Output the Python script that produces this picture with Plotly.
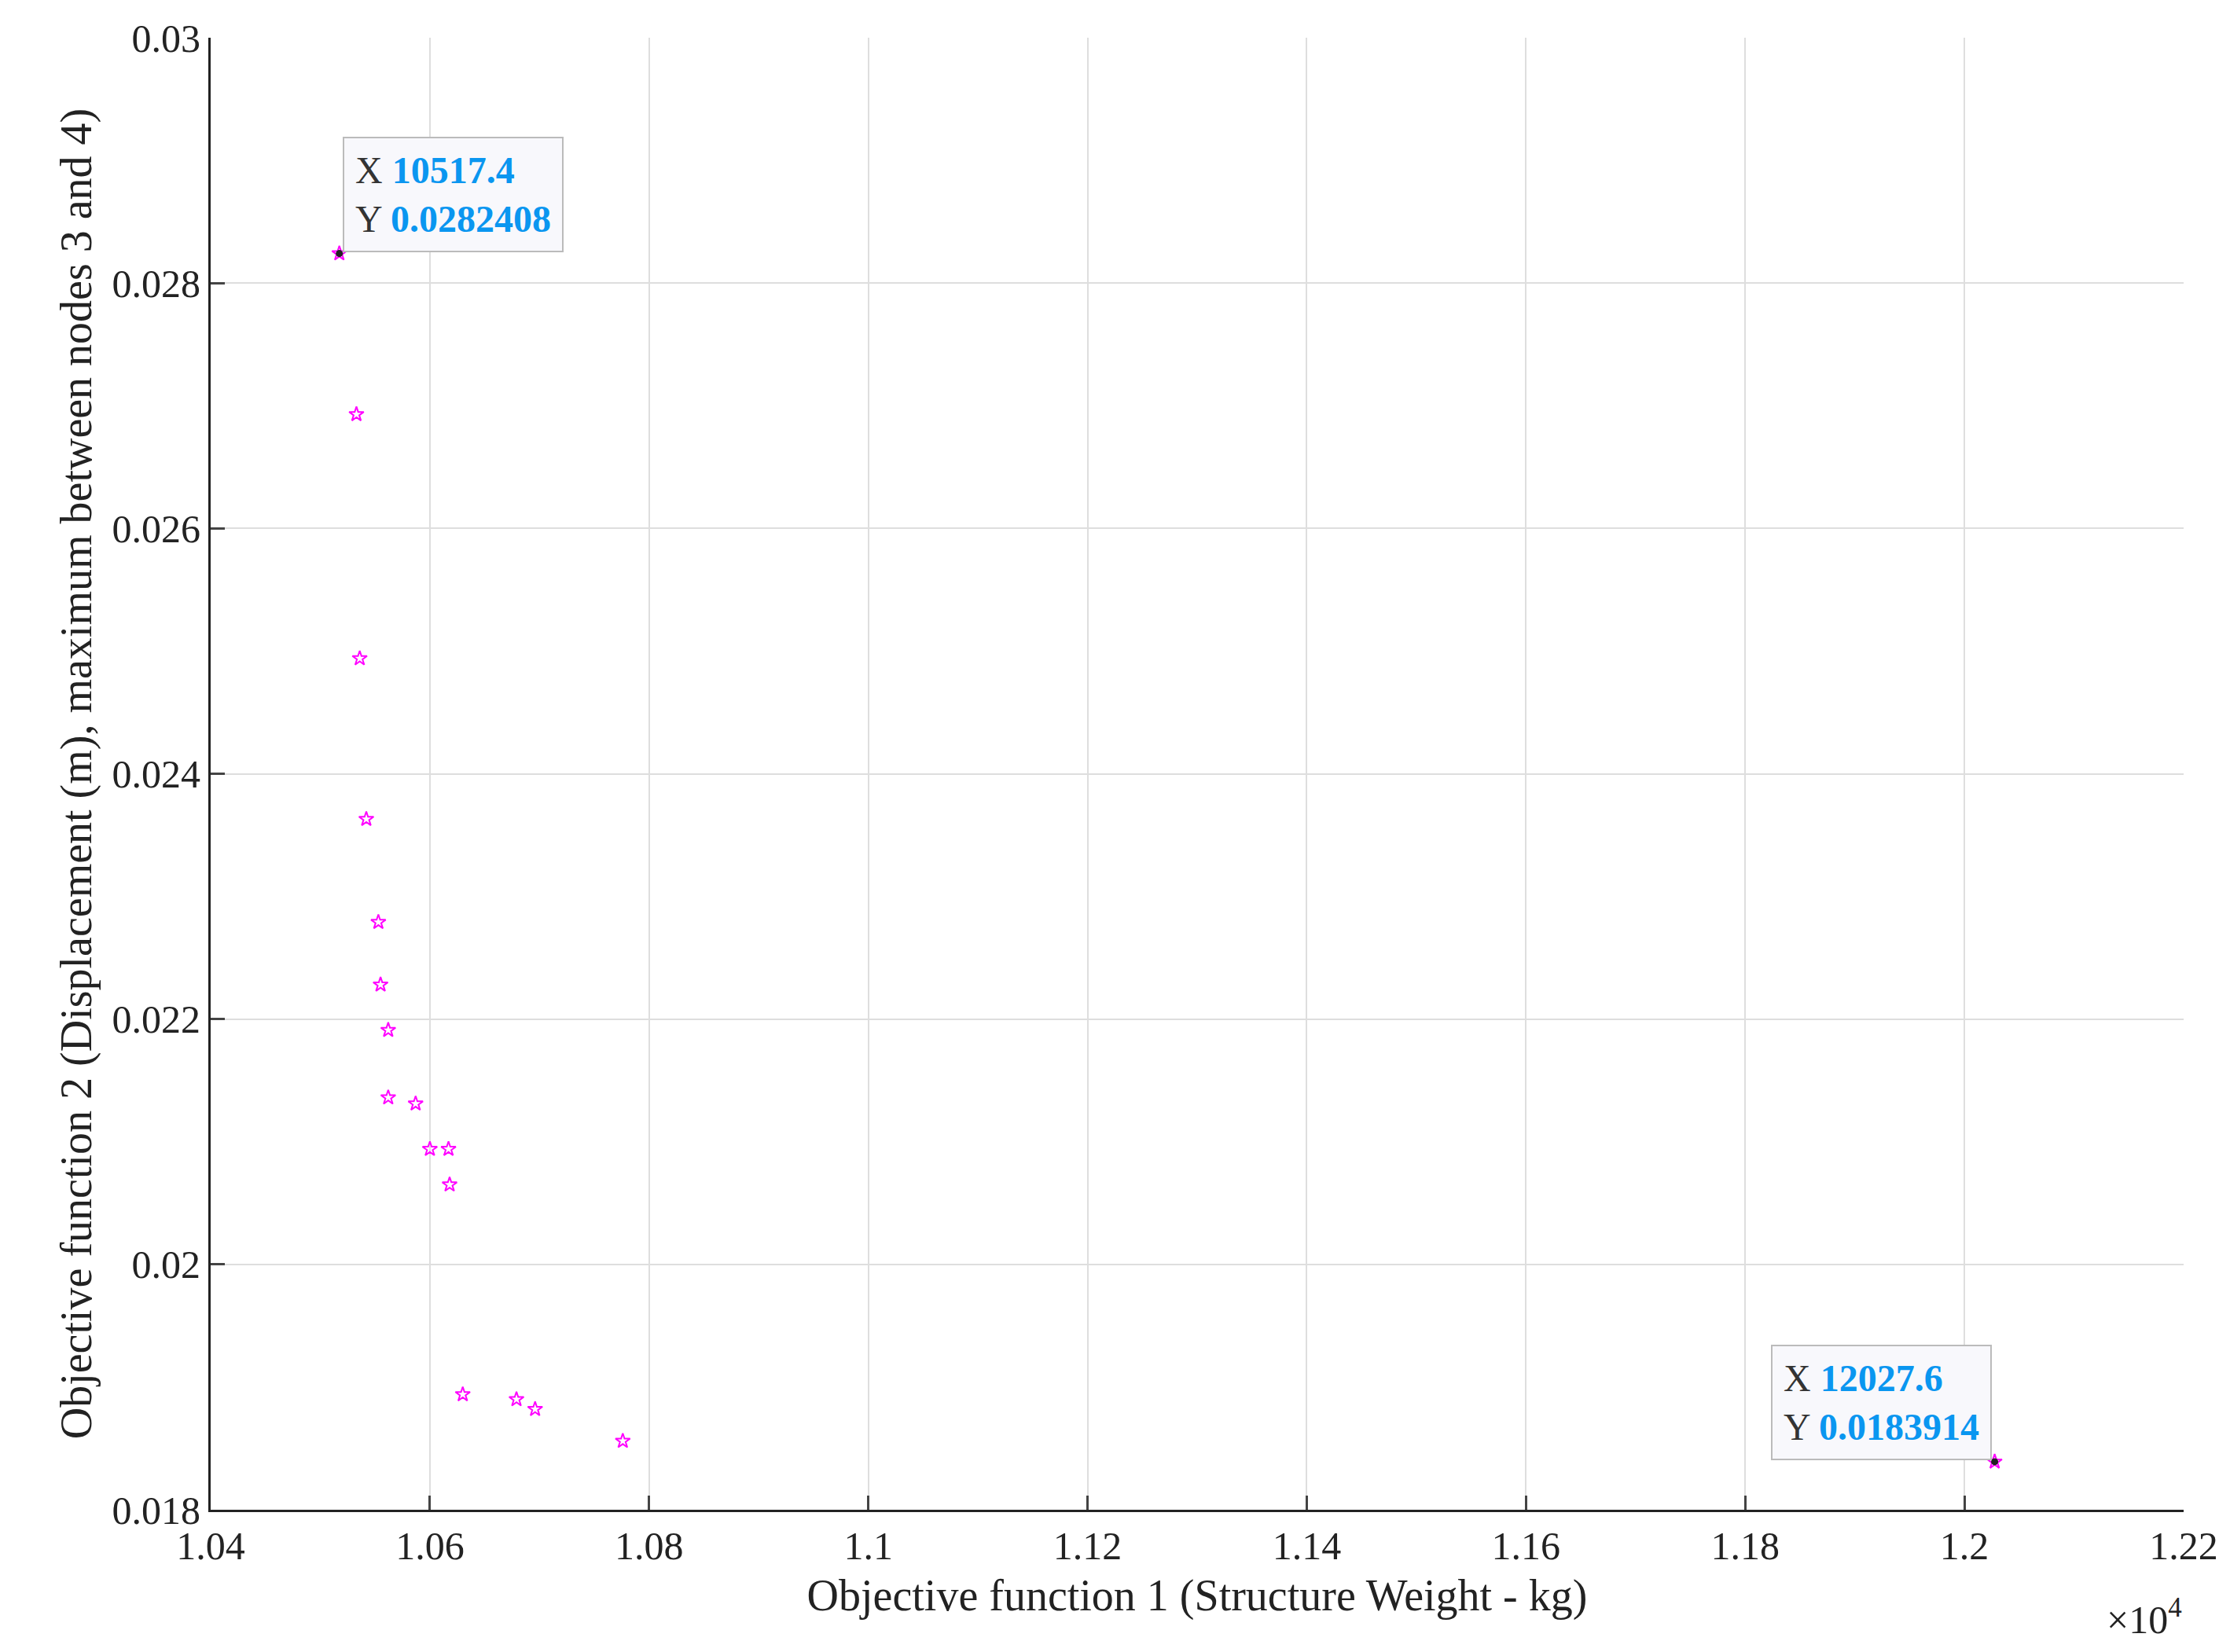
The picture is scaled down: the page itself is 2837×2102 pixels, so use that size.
import plotly.graph_objects as go

# ---------------------------------
# Pareto front data
# ---------------------------------

weight_kg = [10517.4, 10533, 10536, 10542, 10553, 10555, 10562, 10562, 10587,
             10600, 10617, 10618, 10630, 10679, 10696, 10776, 12027.6]
displacement_m = [0.0282408, 0.02693, 0.02494, 0.02363, 0.02279, 0.02228, 0.02191,
                  0.02136, 0.02131, 0.02094, 0.02094, 0.02065, 0.01894, 0.01890,
                  0.01882, 0.01856, 0.0183914]

tip_x = [10517.4, 12027.6]
tip_y = [0.0282408, 0.0183914]
tip_text = ["10517.4", "12027.6"]
tip_ytext = ["0.0282408", "0.0183914"]

x_ticks = [10400, 10600, 10800, 11000, 11200, 11400, 11600, 11800, 12000, 12200]
x_ticklabels = ["1.04", "1.06", "1.08", "1.1", "1.12", "1.14", "1.16", "1.18", "1.2", "1.22"]
y_ticks = [0.018, 0.02, 0.022, 0.024, 0.026, 0.028, 0.03]
y_ticklabels = ["0.018", "0.02", "0.022", "0.024", "0.026", "0.028", "0.03"]

FONT = "Liberation Serif"

fig = go.Figure()

fig.add_trace(go.Scatter(
    x=weight_kg, y=displacement_m, mode="markers",
    marker=dict(symbol="star-open", size=14, color="#ff00ff", line=dict(width=2)),
    showlegend=False,
))

fig.add_trace(go.Scatter(
    x=tip_x, y=tip_y, mode="markers",
    marker=dict(symbol="circle", size=9, color="#222222"),
    showlegend=False,
))

# ---------------------------------
# Data tips
# ---------------------------------

for i, (px_, py_) in enumerate(zip(tip_x, tip_y)):
    txt = ("X <b><span style='color:#0a96f0'>" + tip_text[i] + "</span></b><br>"
           "Y <b><span style='color:#0a96f0'>" + tip_ytext[i] + "</span></b>")
    fig.add_annotation(
        x=px_, y=py_, text=txt, showarrow=False, align="left",
        xanchor="left" if i == 0 else "right", yanchor="bottom",
        xshift=4 if i == 0 else -4, yshift=2,
        font=dict(family=FONT, size=48, color="#333333"),
        bgcolor="#f8f8fc", bordercolor="#bbbbbb", borderwidth=2, borderpad=14,
    )

fig.add_annotation(
    xref="paper", yref="paper", x=1.0, y=-0.055, xanchor="right", yanchor="top",
    text="×10<sup>4</sup>", showarrow=False,
    font=dict(family=FONT, size=50, color="#222222"),
)

fig.update_layout(
    width=2837, height=2102,
    margin=dict(l=260, r=67, t=40, b=189),
    plot_bgcolor="white", paper_bgcolor="white",
    font=dict(family=FONT, size=50, color="#222222"),
)

fig.update_xaxes(
    range=[10400, 12200], tickvals=x_ticks, ticktext=x_ticklabels,
    title=dict(text="Objective function 1 (Structure Weight - kg)", font=dict(size=56), standoff=16),
    showgrid=True, gridcolor="#dedede", gridwidth=2,
    showline=True, linecolor="#222222", linewidth=3, mirror=False,
    ticks="inside", ticklen=18, tickwidth=3, zeroline=False,
)
fig.update_yaxes(
    range=[0.018, 0.03], tickvals=y_ticks, ticktext=y_ticklabels,
    title=dict(text="Objective function 2 (Displacement (m), maximum between nodes 3 and 4)",
               font=dict(size=56), standoff=8),
    showgrid=True, gridcolor="#dedede", gridwidth=2,
    showline=True, linecolor="#222222", linewidth=3, mirror=False,
    ticks="inside", ticklen=18, tickwidth=3, zeroline=False,
)

fig.write_html("out.html")
